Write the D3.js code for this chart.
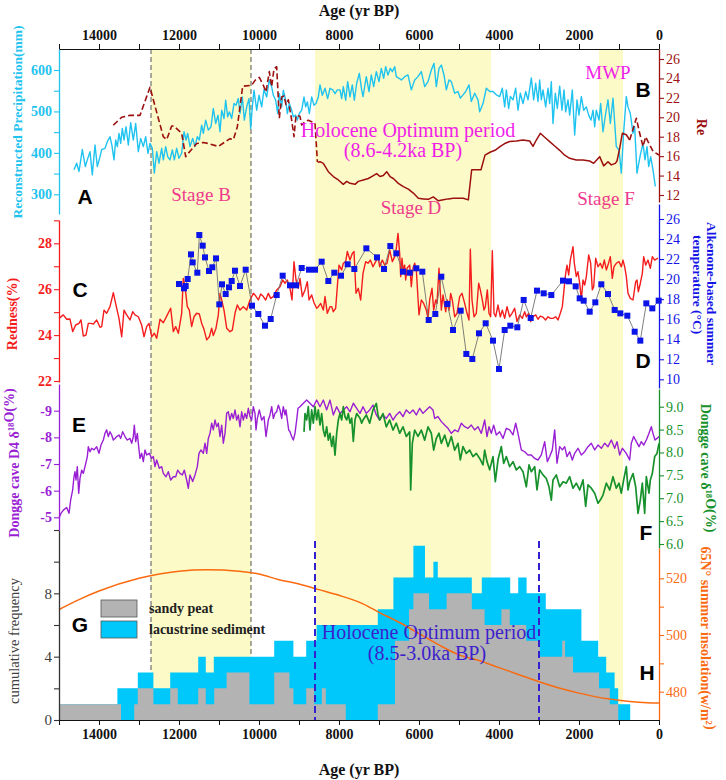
<!DOCTYPE html>
<html>
<head>
<meta charset="utf-8">
<script src="https://cdn.jsdelivr.net/npm/d3@7"></script>
<style>
  body { margin: 0; background: #fff; }
  svg text { font-family: "Liberation Serif", "Times New Roman", serif; }
</style>
</head>
<body>
<svg id="chart" width="726" height="780"></svg>
<script>
// ---- data (age in yr BP, value) ----
const stageBands = [[12700, 10200], [8600, 4200], [1500, 900]];
const stageBounds = [12700, 10200];
const optimumBounds = [8600, 3000];
const ageTicks = d3.range(15000, -1, -1000);
const ageLabels = [14000, 12000, 10000, 8000, 6000, 4000, 2000, 0];

// A: reconstructed precipitation (mm)
const precipitation = [
  [14625,359],[14558,375],[14500,355],[14417,408],[14342,367],[14292,383],[14225,403],[14167,347],[14100,419],[14042,367],
  [13975,391],[13933,408],[13850,411],[13792,427],[13725,439],[13675,417],[13625,383],[13583,431],[13542,415],[13500,447],
  [13458,423],[13417,459],[13375,431],[13325,463],[13267,419],[13208,473],[13142,431],[13083,471],[13017,403],[12958,435],
  [12892,415],[12833,439],[12775,399],[12725,423],[12667,411],[12617,351],[12558,403],[12500,375],[12433,411],[12392,383],
  [12333,415],[12283,391],[12225,383],[12167,407],[12117,383],[12058,411],[12000,387],[11933,399],[11875,451],[11825,431],
  [11783,447],[11725,415],[11658,435],[11600,415],[11542,439],[11492,431],[11433,467],[11392,447],[11333,479],[11267,455],
  [11200,463],[11142,507],[11083,471],[11025,491],[10975,451],[10933,503],[10875,483],[10833,527],[10783,487],[10742,499],
  [10683,483],[10625,519],[10575,515],[10517,531],[10475,495],[10417,535],[10367,479],[10308,511],[10250,531],[10208,459],
  [10167,511],[10125,551],[10058,503],[10000,539],[9933,511],[9875,553],[9808,535],[9742,576],[9683,559],[9642,539],
  [9583,527],[9533,495],[9492,543],[9433,511],[9392,551],[9333,527],[9292,495],[9242,519],[9183,503],[9142,487],
  [9083,491],[9042,479],[8992,495],[8933,503],[8875,535],[8833,511],[8792,523],[8742,495],[8683,535],[8625,515],
  [8575,519],[8517,535],[8475,564],[8417,539],[8350,556],[8283,531],[8225,556],[8158,552],[8100,543],[8042,552],
  [7975,552],[7933,531],[7892,560],[7833,527],[7783,572],[7725,535],[7667,564],[7617,527],[7558,568],[7492,592],
  [7433,552],[7400,536],[7317,584],[7250,548],[7192,588],[7133,560],[7067,596],[7000,572],[6942,604],[6883,580],
  [6833,608],[6775,588],[6717,604],[6667,596],[6608,608],[6567,584],[6500,580],[6442,576],[6358,584],[6275,588],
  [6192,552],[6108,576],[6025,584],[5942,596],[5858,560],[5775,572],[5692,600],[5625,616],[5567,560],[5500,604],
  [5442,612],[5375,588],[5317,552],[5250,576],[5192,572],[5108,544],[5025,548],[4967,532],[4900,540],[4833,548],
  [4750,564],[4692,524],[4608,544],[4525,528],[4483,499],[4400,519],[4317,556],[4233,548],[4150,548],[4067,540],
  [3983,536],[3917,556],[3858,511],[3817,552],[3758,507],[3717,536],[3650,528],[3583,556],[3525,503],[3467,544],
  [3400,519],[3333,548],[3275,528],[3192,581],[3133,528],[3083,568],[3025,524],[2983,576],[2942,528],[2900,552],
  [2833,511],[2775,556],[2733,519],[2692,572],[2650,471],[2592,544],[2542,507],[2483,561],[2425,503],[2375,552],
  [2333,499],[2275,528],[2233,491],[2167,552],[2108,443],[2050,528],[2000,491],[1942,536],[1883,503],[1817,511],
  [1758,491],[1700,479],[1650,503],[1608,463],[1567,503],[1500,479],[1458,519],[1400,451],[1333,495],[1275,528],
  [1217,471],[1150,532],[1067,415],[1000,407],[942,351],[883,451],[817,536],[775,511],[717,495],[650,447],
  [608,463],[550,351],[467,395],[400,423],[350,383],[300,415],[258,367],[208,391],[150,359],[92,319]
];

// B: Re (dashed / solid / dashed)
const reEarly = [
  [13642,19.2],[13433,20.0],[13225,20.2],[12975,20.2],[12725,23.1],[12642,21.8],[12517,19.9],[12392,18.0],[12308,17.7],
  [12183,19.1],[12125,19.1],[11933,18.35],[11833,15.95],[11725,16.5],[11558,17.3],[11392,17.4],[11267,17.3],[11017,17.0],
  [10908,17.3],[10725,17.8],[10642,17.7],[10542,19.0],[10475,21.1],[10408,23.2],[10183,23.3],[10100,23.8],[9992,24.1],
  [9892,23.3],[9825,22.6],[9742,24.7],[9683,23.15],[9625,25.0],[9558,25.2],[9492,19.9],[9433,22.1],[9375,22.2],
  [9325,21.3],[9267,21.8],[9183,19.7],[9125,18.0],[9075,20.2],[8975,20.1],[8933,19.2],[8850,19.55],[8767,19.7],
  [8683,19.55],[8600,19.4],[8540,15.4]
];
const reMid = [
  [8533,15.36],[8475,15.43],[8392,15.26],[8267,14.4],[8142,13.9],[8017,13.55],[7892,13.1],[7808,13.4],[7725,13.2],
  [7600,13.1],[7517,13.4],[7392,13.55],[7267,13.7],[7183,13.9],[7058,14.2],[6975,13.9],[6892,14.0],[6808,14.4],
  [6725,13.9],[6642,13.7],[6517,13.2],[6392,12.86],[6267,12.6],[6142,12.2],[6017,11.66],[5892,11.6],[5767,11.55],
  [5642,11.8],[5517,11.4],[5392,11.5],[5267,11.6],[5142,11.66],[5017,11.66],[4892,11.66],[4767,11.5],[4683,14.6],
  [4558,14.6],[4450,14.6],[4350,16.1],[4225,16.4],[4100,16.6],[3967,17.0],[3858,17.3],[3733,17.5],[3567,17.56],
  [3400,17.66],[3233,17.56],[3150,17.0],[3067,17.66],[2967,18.35],[2858,17.94],[2733,17.5],[2608,17.05],[2483,16.6],
  [2358,16.1],[2233,15.78],[2067,15.6],[1900,15.6],[1733,15.5],[1633,15.26],[1483,15.95],[1383,15.0],[1275,15.43],
  [1192,15.1],[1092,15.26],[1050,15.5],[983,16.8],[917,18.35],[817,18.2],[733,17.66]
];
const reLate = [[733,17.66],[633,19.0],[567,19.9],[483,18.35],[400,17.0],[333,18.0],[275,17.5],[150,16.5],[0,16.12]];

// C: redness (%)
const redness = [
  [14999,24.73],[14892,24.88],[14808,24.69],[14725,24.7],[14658,24.15],[14583,24.44],[14500,24.51],[14450,24.66],[14392,23.96],
  [14325,24.0],[14267,24.51],[14200,24.51],[14142,24.48],[14058,24.66],[13975,24.34],[13933,24.37],[13875,25.09],[13808,24.95],
  [13725,25.24],[13642,25.85],[13575,25.31],[13500,24.73],[13433,23.93],[13375,25.09],[13308,24.88],[13225,24.66],[13158,25.02],
  [13100,24.88],[13017,24.8],[12933,24.44],[12875,23.93],[12808,24.37],[12750,24.51],[12683,23.93],[12617,24.08],[12558,23.86],
  [12475,24.69],[12392,24.54],[12292,24.88],[12208,25.17],[12142,24.15],[12083,24.37],[12017,24.08],[11933,24.95],[11892,26.47],
  [11850,26.11],[11792,25.24],[11742,25.09],[11683,24.37],[11625,24.8],[11558,24.95],[11492,24.92],[11433,24.51],[11375,24.25],
  [11308,23.79],[11242,23.93],[11183,24.3],[11142,23.98],[11075,24.3],[11017,24.88],[10975,25.82],[10933,25.53],[10875,25.09],
  [10808,24.3],[10725,24.15],[10667,24.22],[10600,24.95],[10542,25.31],[10475,25.09],[10392,25.24],[10308,25.09],[10225,25.53],
  [10142,25.82],[10100,25.75],[10017,25.53],[9958,25.79],[9892,25.68],[9833,25.53],[9767,25.82],[9708,25.6],[9642,25.68],
  [9558,25.97],[9475,26.11],[9408,26.4],[9350,26.26],[9292,26.4],[9225,26.04],[9175,25.53],[9125,27.2],[9075,26.4],
  [9017,26.04],[8975,26.47],[8917,25.68],[8850,25.97],[8792,26.33],[8750,25.53],[8683,25.75],[8625,25.41],[8558,25.17],
  [8517,25.24],[8458,25.38],[8392,25.09],[8350,25.68],[8292,24.95],[8225,25.24],[8183,25.24],[8142,25.02],[8083,25.17],
  [8042,26.11],[8000,27.05],[7933,26.84],[7892,27.13],[7833,27.2],[7792,27.64],[7725,27.27],[7667,27.56],[7625,27.64],
  [7575,25.82],[7517,26.04],[7458,25.53],[7400,26.69],[7333,27.2],[7275,27.13],[7217,27.27],[7150,26.98],[7083,27.2],
  [7025,27.42],[6983,26.98],[6917,27.27],[6858,27.05],[6800,27.13],[6733,27.71],[6667,27.2],[6608,27.42],[6567,27.78],
  [6525,28.43],[6483,27.56],[6458,26.55],[6425,27.35],[6400,26.84],[6358,27.05],[6333,26.4],[6300,26.91],[6233,27.05],
  [6192,26.11],[6150,26.91],[6108,27.13],[6067,26.84],[6000,24.88],[5942,25.53],[5883,25.38],[5817,25.09],[5775,24.73],
  [5733,25.53],[5675,26.04],[5633,25.09],[5583,25.53],[5550,25.38],[5500,26.91],[5442,25.09],[5400,25.75],[5333,25.02],
  [5292,25.53],[5250,25.09],[5208,25.82],[5167,25.53],[5108,24.8],[5050,24.95],[4983,25.68],[4925,25.82],[4858,25.38],
  [4800,24.95],[4750,24.66],[4717,27.74],[4675,25.53],[4625,24.8],[4567,24.95],[4508,26.26],[4467,25.97],[4417,25.53],
  [4375,25.09],[4342,25.24],[4292,25.97],[4250,24.95],[4208,24.8],[4167,27.68],[4125,24.95],[4083,24.8],[4025,25.31],
  [3967,24.8],[3917,25.09],[3858,24.73],[3800,25.24],[3733,24.8],[3675,24.95],[3608,25.17],[3550,24.59],[3483,24.88],
  [3417,24.73],[3358,25.02],[3317,24.8],[3258,24.95],[3208,24.59],[3150,24.8],[3083,24.88],[3025,24.69],[2967,24.83],
  [2900,24.78],[2833,24.66],[2775,24.8],[2717,24.73],[2650,24.73],[2583,24.8],[2525,24.66],[2467,24.95],[2417,25.24],
  [2375,25.97],[2333,26.69],[2300,27.05],[2258,26.62],[2217,27.27],[2150,27.85],[2117,27.13],[2067,26.55],[2025,26.76],
  [1983,26.26],[1942,25.53],[1900,26.4],[1858,26.18],[1817,26.55],[1758,27.49],[1708,27.13],[1667,25.97],[1633,26.11],
  [1583,27.35],[1525,26.98],[1467,27.13],[1417,26.91],[1367,27.27],[1317,26.84],[1275,27.05],[1217,27.42],[1167,26.47],
  [1125,26.98],[1067,27.13],[1000,27.2],[942,26.98],[900,27.27],[858,26.98],[817,26.55],[775,25.82],[717,25.6],
  [650,25.53],[583,26.33],[550,26.4],[517,25.89],[467,26.26],[417,26.69],[383,27.42],[333,27.05],[275,27.27],
  [217,26.91],[167,27.42],[108,27.27],[25,27.35]
];

// D: alkenone-based summer temperature (°C)
const alkenone = [
  [12000,19.51],[11875,19.08],[11833,19.31],[11783,20.01],[11700,22.47],[11658,21.67],[11542,20.64],[11492,24.4],[11408,23.34],
  [11350,22.17],[11250,20.81],[11167,21.18],[11075,22.07],[10992,17.48],[10925,19.48],[10833,18.51],[10750,19.18],[10683,19.81],
  [10600,20.84],[10475,19.31],[10333,20.94],[10175,17.35],[10017,16.52],[9850,15.35],[9708,16.02],[9558,18.41],[9408,20.34],
  [9225,19.38],[9075,19.38],[8933,21.11],[8750,20.94],[8600,20.94],[8433,21.74],[8267,19.81],[8117,20.64],[7950,20.34],
  [7783,21.48],[7617,21.01],[7317,23.07],[7050,22.17],[6875,21.01],[6717,23.3],[6567,22.57],[6400,20.74],[6233,20.64],
  [6067,21.08],[5917,20.74],[5758,15.92],[5592,16.52],[5442,20.24],[5292,17.52],[5150,14.92],[4958,16.85],[4817,12.53],
  [4667,12.03],[4500,14.59],[4333,15.59],[4150,13.86],[4000,11.03],[3858,14.92],[3717,15.35],[3542,15.19],[3383,17.92],
  [3208,16.12],[3050,18.85],[2883,18.58],[2692,18.41],[2400,19.85],[2250,19.78],[2083,19.28],[1983,18.08],[1883,17.85],
  [1733,16.75],[1592,17.68],[1442,19.48],[1275,18.51],[1108,16.92],[967,16.58],[792,16.35],[608,14.75],[467,13.86],
  [317,17.58],[167,17.08],[8,17.85]
];

// E: Dongge cave D4 d18O
const d4 = [
  [15000,-4.96],[14950,-5.15],[14892,-5.27],[14808,-5.37],[14750,-5.15],[14708,-5.65],[14658,-6.03],[14625,-6.52],[14600,-6.71],
  [14575,-6.4],[14542,-6.9],[14508,-5.9],[14475,-6.46],[14433,-6.77],[14392,-6.65],[14350,-6.9],[14292,-7.28],[14267,-7.65],
  [14225,-7.46],[14183,-7.59],[14125,-7.53],[14058,-7.65],[14000,-7.4],[13950,-7.71],[13892,-7.9],[13850,-8.15],[13808,-8.28],
  [13767,-8.03],[13725,-8.21],[13683,-8.09],[13642,-7.9],[13600,-7.96],[13558,-8.03],[13500,-8.09],[13458,-7.96],[13408,-8.21],
  [13350,-8.03],[13292,-7.9],[13225,-7.96],[13183,-7.78],[13142,-8.03],[13117,-8.46],[13083,-7.84],[13042,-8.15],[13017,-7.78],
  [12975,-7.21],[12933,-7.4],[12892,-7.09],[12850,-7.53],[12808,-7.34],[12742,-7.4],[12683,-7.21],[12642,-7.28],[12600,-6.9],
  [12558,-7.15],[12492,-6.84],[12433,-6.9],[12392,-6.65],[12325,-6.52],[12267,-6.71],[12208,-6.4],[12142,-6.52],[12083,-6.52],
  [12033,-6.77],[11975,-6.65],[11917,-6.59],[11867,-6.77],[11808,-6.4],[11767,-6.09],[11725,-6.59],[11658,-6.34],[11600,-6.59],
  [11542,-6.9],[11500,-7.4],[11450,-7.53],[11392,-7.4],[11350,-7.78],[11308,-7.4],[11267,-7.96],[11225,-8.15],[11183,-8.53],
  [11142,-8.28],[11100,-8.65],[11058,-8.4],[11017,-8.53],[10975,-8.03],[10933,-8.46],[10892,-7.78],[10850,-8.15],[10808,-8.9],
  [10767,-8.96],[10725,-8.65],[10683,-8.9],[10642,-8.71],[10600,-9.03],[10558,-8.65],[10517,-8.84],[10475,-8.4],[10433,-8.96],
  [10392,-8.65],[10350,-8.9],[10308,-8.71],[10267,-9.09],[10225,-8.78],[10183,-8.65],[10142,-9.15],[10100,-8.9],[10075,-8.28],
  [10042,-8.71],[9992,-9.03],[9933,-8.65],[9875,-8.78],[9825,-8.03],[9767,-8.65],[9725,-8.84],[9683,-9.15],[9642,-8.71],
  [9600,-8.9],[9558,-8.96],[9517,-9.21],[9475,-9.03],[9433,-8.71],[9392,-9.15],[9350,-8.84],[9325,-9.03],[9292,-8.65],
  [9258,-8.28],[9225,-8.21],[9183,-8.03],[9142,-7.9],[9100,-8.15],[9058,-8.65],[9025,-9.09],[8975,-9.15],[8892,-9.28],
  [8808,-9.4],[8725,-9.28],[8642,-9.15],[8558,-9.4],[8475,-9.15],[8392,-9.4],[8308,-9.03],[8225,-9.4],[8142,-8.84],
  [8058,-9.15],[7975,-8.9],[7892,-9.03],[7808,-9.15],[7725,-8.96],[7642,-9.28],[7558,-9.09],[7475,-8.9],[7400,-9.15],
  [7317,-8.9],[7233,-9.03],[7150,-9.21],[7067,-8.84],[6983,-8.65],[6900,-8.84],[6817,-8.71],[6733,-8.9],[6650,-8.65],
  [6567,-8.84],[6483,-8.96],[6400,-8.78],[6317,-9.03],[6233,-8.9],[6150,-9.03],[6067,-8.84],[5983,-9.09],[5900,-8.9],
  [5817,-9.03],[5733,-9.15],[5650,-9.03],[5608,-8.71],[5525,-8.78],[5442,-8.59],[5358,-8.46],[5275,-8.34],[5192,-8.15],
  [5108,-8.28],[5025,-8.21],[4942,-8.53],[4858,-8.4],[4775,-8.34],[4692,-8.46],[4608,-8.28],[4525,-8.4],[4442,-8.15],
  [4358,-8.65],[4300,-8.03],[4250,-8.4],[4192,-8.15],[4133,-8.46],[4067,-8.09],[3983,-8.21],[3900,-7.96],[3817,-8.34],
  [3733,-8.28],[3650,-8.09],[3583,-8.53],[3525,-8.15],[3442,-7.53],[3358,-7.46],[3275,-7.34],[3192,-7.34],[3108,-7.21],
  [3025,-7.15],[2942,-7.34],[2858,-7.84],[2792,-7.09],[2733,-7.28],[2667,-7.53],[2608,-8.28],[2550,-7.03],[2483,-7.65],
  [2417,-7.53],[2358,-7.65],[2300,-7.28],[2233,-7.46],[2167,-7.15],[2108,-7.4],[2025,-7.59],[1942,-7.34],[1858,-7.46],
  [1775,-7.65],[1692,-7.78],[1608,-7.53],[1525,-7.71],[1442,-7.59],[1358,-7.78],[1275,-7.65],[1192,-7.9],[1108,-7.59],
  [1050,-7.84],[983,-7.34],[917,-7.59],[817,-7.4],[733,-7.15],[692,-7.78],[633,-8.03],[567,-7.84],[500,-7.65],
  [442,-7.84],[383,-7.71],[317,-7.9],[250,-8.15],[192,-8.4],[150,-8.15],[100,-7.9],[50,-7.96],[0,-8.03]
];

// F: Dongge cave d18O
const dongge = [
  [8875,8.45],[8850,8.85],[8808,8.71],[8767,9.0],[8725,8.49],[8683,8.93],[8642,8.64],[8600,9.0],[8558,8.71],[8517,8.93],
  [8475,8.6],[8433,8.85],[8392,8.49],[8350,8.35],[8308,8.56],[8267,8.27],[8225,8.42],[8183,8.13],[8142,8.35],[8100,7.94],
  [8058,8.42],[8017,8.71],[7975,8.85],[7933,8.71],[7892,9.0],[7850,8.78],[7808,8.71],[7767,8.85],[7725,8.64],[7683,8.75],
  [7642,8.24],[7600,8.71],[7558,8.85],[7475,8.75],[7433,8.64],[7400,8.71],[7317,8.82],[7233,8.64],[7150,8.93],[7067,9.07],
  [7025,8.82],[6983,8.71],[6900,8.85],[6817,8.56],[6733,8.71],[6650,8.49],[6567,8.64],[6483,8.42],[6400,8.56],[6317,8.35],
  [6233,8.45],[6208,7.18],[6167,8.2],[6108,8.49],[6025,8.35],[5942,8.49],[5858,8.27],[5775,8.56],[5692,8.42],[5633,8.05],
  [5567,8.31],[5500,8.42],[5442,8.2],[5358,8.38],[5275,8.13],[5192,8.35],[5108,8.05],[5025,8.2],[4967,7.84],[4900,8.13],
  [4817,7.98],[4733,8.05],[4650,7.91],[4567,7.98],[4483,7.87],[4400,7.73],[4358,8.05],[4300,7.8],[4233,7.62],[4150,7.91],
  [4092,7.36],[4025,7.84],[3942,8.13],[3883,7.76],[3817,7.91],[3733,7.69],[3650,7.8],[3567,7.62],[3483,7.69],[3400,7.58],
  [3317,7.25],[3250,7.73],[3192,7.58],[3108,7.69],[3050,7.18],[2983,7.62],[2900,7.51],[2817,7.43],[2750,7.25],[2692,6.96],
  [2650,7.4],[2567,7.51],[2483,7.25],[2400,7.36],[2317,7.33],[2233,7.47],[2150,7.22],[2067,7.33],[1983,7.18],[1900,7.4],
  [1833,6.82],[1775,7.29],[1692,7.22],[1608,7.11],[1525,6.89],[1467,6.96],[1400,7.07],[1317,7.33],[1233,7.18],[1150,7.47],
  [1067,7.22],[1000,7.33],[942,7.11],[883,7.4],[817,7.69],[775,7.18],[733,7.36],[650,7.54],[583,7.25],[525,6.67],
  [467,6.96],[417,7.33],[358,6.67],[317,7.47],[250,7.11],[217,7.4],[167,7.54],[108,7.91],[50,7.98],[0,8.2]
];

// H: 65N summer insolation (W/m2)
const insolation = [
  [15000,509],[14500,512.5],[14000,515.5],[13000,520],[12000,522.5],[11300,523],[10500,522.5],[10000,521.5],[9500,519.5],
  [9000,518],[8500,516],[8000,514],[7400,511],[7000,508],[6500,504.5],[6000,500.5],[5500,496.5],[5000,493],[4500,491],
  [4000,488.5],[3500,486],[3000,483.5],[2500,481.3],[2000,479.5],[1500,478],[1000,477],[500,476.3],[0,476]
];

// G: cumulative frequency of dated samples (step edges in yr BP, counts per step)
const totalEdges = [15000,13540,13030,12640,12220,11520,11330,11130,9620,9140,8820,8560,7030,6640,6140,5850,5640,5530,4680,4430,3720,3520,3310,2830,1940,1520,1320,1110,1020,720,0];
const totalCounts = [1,2,3,2,3,4,3,4,5,4,5,6,7,9,11,9,10,9,8,9,8,9,8,7,5,4,3,2,1,0];
const peatEdges = [15000,13450,13120,13030,12640,12220,12030,11520,11330,11120,10810,10240,9620,9240,9140,8820,8620,8430,8330,7830,7030,6600,6250,6140,5750,5310,4680,4360,3940,3730,3320,2980,2420,2350,2150,1500,1230,1020,0];
const peatCounts = [1,0,1,2,1,2,1,2,1,2,3,1,3,2,1,2,1,2,1,0,1,5,7,8,7,8,7,6,7,6,5,4,5,4,3,2,1,0];

// ---- layout ----
const svg = d3.select("#chart");
const m = { l: 59, r: 659, t: 49, b: 720 };
const x = d3.scaleLinear().domain([15000, 0]).range([m.l, m.r]);

const yPrec = d3.scaleLinear().domain([300, 600]).range([194.3, 70]);
const yRe = d3.scaleLinear().domain([12, 26]).range([195, 59]);
const yRed = d3.scaleLinear().domain([22, 28]).range([381, 243.3]);
const yTemp = d3.scaleLinear().domain([10, 26]).range([379.3, 219]);
const yD4 = d3.scaleLinear().domain([-9, -5]).range([410.7, 517.3]);
const yDg = d3.scaleLinear().domain([6, 9]).range([544, 406.7]);
const yFreq = d3.scaleLinear().domain([0, 12]).range([720, 530]);
const yIns = d3.scaleLinear().domain([480, 520]).range([691.7, 578.3]);

const C = {
  prec: "#1fc3f0", re: "#9c1010", red: "#f41c1c", temp: "#1414e6",
  d4: "#9a1fd4", dg: "#16912b", ins: "#fa6a10", band: "#fcfac6",
  stage: "#ee3a8c", holo: "#f01ee8", holo2: "#3d1fcc"
};

// stage bands and boundaries
svg.selectAll("rect.band").data(stageBands).join("rect")
  .attr("x", d => x(d[0])).attr("width", d => x(d[1]) - x(d[0]))
  .attr("y", m.t).attr("height", m.b - m.t).attr("fill", C.band);

svg.selectAll("line.stage").data(stageBounds).join("line")
  .attr("x1", d => x(d)).attr("x2", d => x(d)).attr("y1", m.t).attr("y2", m.b)
  .attr("stroke", "#555").attr("stroke-width", 1).attr("stroke-dasharray", "5,3");

// histogram
function steps(edges, counts) {
  const pts = counts.map((n, i) => [edges[i], n]);
  pts.push([edges[edges.length - 1], counts[counts.length - 1]]);
  return pts;
}
const stepArea = d3.area().curve(d3.curveStepAfter)
  .x(d => x(d[0])).y0(yFreq(0)).y1(d => yFreq(d[1]));
svg.append("path").attr("d", stepArea(steps(totalEdges, totalCounts))).attr("fill", "#00c8fa");
svg.append("path").attr("d", stepArea(steps(peatEdges, peatCounts))).attr("fill", "#b3b3b3");

// insolation
svg.append("path").datum(insolation)
  .attr("d", d3.line().curve(d3.curveMonotoneX).x(d => x(d[0])).y(d => yIns(d[1])))
  .attr("fill", "none").attr("stroke", C.ins).attr("stroke-width", 1.5);

svg.selectAll("line.opt").data(optimumBounds).join("line")
  .attr("x1", d => x(d)).attr("x2", d => x(d)).attr("y1", 541).attr("y2", m.b)
  .attr("stroke", "#3320d0").attr("stroke-width", 2).attr("stroke-dasharray", "7,4");

// series lines
function series(data, scale, color, width, dash) {
  const p = svg.append("path").datum(data)
    .attr("d", d3.line().x(d => x(d[0])).y(d => scale(d[1])))
    .attr("fill", "none").attr("stroke", color).attr("stroke-width", width)
    .attr("stroke-linejoin", "round");
  if (dash) p.attr("stroke-dasharray", dash);
}
series(precipitation, yPrec, C.prec, 1.4);
series(reEarly, yRe, C.re, 1.6, "6,3");
series(reMid, yRe, C.re, 1.5);
series(reLate, yRe, C.re, 1.6, "6,3");
series(redness, yRed, C.red, 1.4);
series(alkenone, yTemp, "#707070", 0.9);
svg.selectAll("rect.alk").data(alkenone).join("rect")
  .attr("x", d => x(d[0]) - 3).attr("y", d => yTemp(d[1]) - 3)
  .attr("width", 6).attr("height", 6).attr("fill", "#0a14e8");
series(d4, yD4, C.d4, 1.4);
series(dongge, yDg, C.dg, 1.7);

// legend
const legend = [["sandy peat", "#b3b3b3", 600], ["lacustrine sediment", "#00c8fa", 621]];
legend.forEach(([name, fill, y]) => {
  svg.append("rect").attr("x", 101).attr("y", y).attr("width", 36).attr("height", 17)
    .attr("fill", fill).attr("stroke", "#555").attr("stroke-width", 0.8);
  svg.append("text").attr("x", 149).attr("y", y + 13).text(name)
    .style("font-size", "14px").style("font-weight", "bold").attr("fill", "#222");
});

// ---- axes ----
function span(scale, y0, y1) {
  return scale.copy().domain([scale.invert(y1), scale.invert(y0)]).range([y1, y0]);
}
function yAxis(scale, y0, y1, side, color, ticks, labelled, fmt, font) {
  const s = span(scale, y0, y1);
  const ax = (side === "left" ? d3.axisLeft(s) : d3.axisRight(s))
    .tickValues(ticks).tickSizeInner(5).tickSizeOuter(0).tickPadding(2)
    .tickFormat(d => labelled.some(v => Math.abs(v - d) < 1e-9) ? fmt(d) : "");
  const g = svg.append("g").attr("transform", `translate(${side === "left" ? m.l : m.r},0)`).call(ax);
  g.select(".domain").attr("stroke", color).attr("stroke-width", 1.3);
  g.selectAll(".tick line").attr("stroke", color).attr("stroke-width", 1.1);
  g.selectAll(".tick text").attr("fill", font.color || color)
    .style("font-family", '"Liberation Serif", serif')
    .style("font-size", font.size + "px").style("font-weight", font.weight);
}
const same = d => d;
yAxis(yPrec, 49, 214, "left", C.prec, [350, 400, 450, 500, 550, 600, 300], [300, 400, 500, 600], same, { size: 14, weight: "bold" });
yAxis(yRed, 220, 382, "left", C.red, [22, 23, 24, 25, 26, 27, 28, 29], [22, 24, 26, 28], same, { size: 14, weight: "bold" });
yAxis(yD4, 384, 530, "left", C.d4, [-9, -8, -7, -6, -5], [-9, -8, -7, -6, -5], d => String(d), { size: 14, weight: "bold" });
yAxis(yFreq, 530, 720, "left", "#333", [0, 2, 4, 6, 8, 10, 12], [0, 4, 8], same, { size: 15, weight: "normal", color: "#404040" });

yAxis(yRe, 49, 202, "right", C.re, d3.range(12, 27, 2), d3.range(12, 27, 2), same, { size: 14, weight: "normal" });
yAxis(yTemp, 204, 388, "right", C.temp, d3.range(10, 27, 2), d3.range(10, 27, 2), same, { size: 14, weight: "normal" });
yAxis(yDg, 389, 548, "right", C.dg, d3.range(6, 9.01, 0.5), d3.range(6, 9.01, 0.5), d3.format(".1f"), { size: 14, weight: "normal" });
yAxis(yIns, 548, 720, "right", C.ins, [480, 490, 500, 510, 520], [480, 500, 520], same, { size: 14, weight: "normal" });

function xAxis(axisFn, y) {
  const g = svg.append("g").attr("transform", `translate(0,${y})`)
    .call(axisFn(x).tickValues(ageTicks).tickSizeInner(5).tickSizeOuter(0).tickPadding(4)
      .tickFormat(d => ageLabels.includes(d) ? d : ""));
  g.select(".domain").attr("stroke", "#111").attr("stroke-width", 1.2);
  g.selectAll(".tick line").attr("stroke", "#111");
  g.selectAll(".tick text").attr("fill", "#111")
    .style("font-family", '"Liberation Serif", serif').style("font-size", "14px").style("font-weight", "bold");
}
xAxis(d3.axisTop, m.t);
xAxis(d3.axisBottom, m.b);

// ---- text ----
function text(str, xPos, yPos, color, size, opts = {}) {
  return svg.append("text").attr("x", xPos).attr("y", yPos).text(str)
    .attr("text-anchor", opts.anchor || "middle").attr("fill", color)
    .style("font-size", size + "px").style("font-weight", opts.weight || "normal")
    .style("font-family", opts.sans ? '"Liberation Sans", Arial, sans-serif' : '"Liberation Serif", serif');
}
function rotLabel(parts, cx, cy, angle, color, size, weight, anchor) {
  const t = svg.append("text").attr("transform", `translate(${cx},${cy}) rotate(${angle})`)
    .attr("text-anchor", anchor || "middle").attr("fill", color)
    .style("font-size", size + "px").style("font-weight", weight);
  parts.forEach(p => {
    if (typeof p === "string") t.append("tspan").text(p);
    else {
      t.append("tspan").attr("dy", -5).style("font-size", (size * 0.62) + "px").text(p.sup);
      t.append("tspan").attr("dy", 5).text("");
    }
  });
  return t;
}

text("Age (yr BP)", 359, 16, "#111", 16, { weight: "bold" });
text("Age (yr BP)", 359, 775, "#111", 16, { weight: "bold" });

rotLabel(["Reconstructed  Precipitation(mm)"], 22, 122, -90, C.prec, 13.5, "bold");
rotLabel(["Redness(%)"], 17, 314, -90, C.red, 14, "bold");
rotLabel(["Dongge cave D4 δ", { sup: "18" }, "O(%)"], 19, 463, -90, C.d4, 14, "bold");
rotLabel(["cumulative frequency"], 19, 641, -90, "#404040", 14.5, "normal");

rotLabel(["Re"], 697, 127, 90, C.re, 14, "bold");
rotLabel(["Alkenone-based summer"], 707, 222, 90, C.temp, 13.5, "bold", "start");
rotLabel(["temperature (°C)"], 693, 235, 90, C.temp, 13.5, "bold", "start");
rotLabel(["Dongge cave  δ", { sup: "18" }, "O(%)"], 701, 468, 90, C.dg, 14, "bold");
rotLabel(["65N° summer  insolation(w/m", { sup: "2" }, ")"], 701, 638, 90, C.ins, 14, "bold");

text("Holocene Optimum period", 408, 137, C.holo, 20);
text("(8.6-4.2ka BP)", 403, 157, C.holo, 20);
text("MWP", 608, 79, C.holo, 19);
text("Stage B", 201, 201, C.stage, 19);
text("Stage D", 411, 214, C.stage, 19);
text("Stage F", 606, 205, C.stage, 19);
text("Holocene Optimum period", 429, 639, C.holo2, 20);
text("(8.5-3.0ka BP)", 427, 660, C.holo2, 20);

[["A", 85, 204], ["B", 643, 97], ["C", 80, 297], ["D", 643, 368],
 ["E", 79, 432], ["F", 646, 540], ["G", 80, 632], ["H", 647, 680]]
  .forEach(([l, lx, ly]) => text(l, lx, ly, "#000", 21, { weight: "bold", sans: true }));
</script>
</body>
</html>
